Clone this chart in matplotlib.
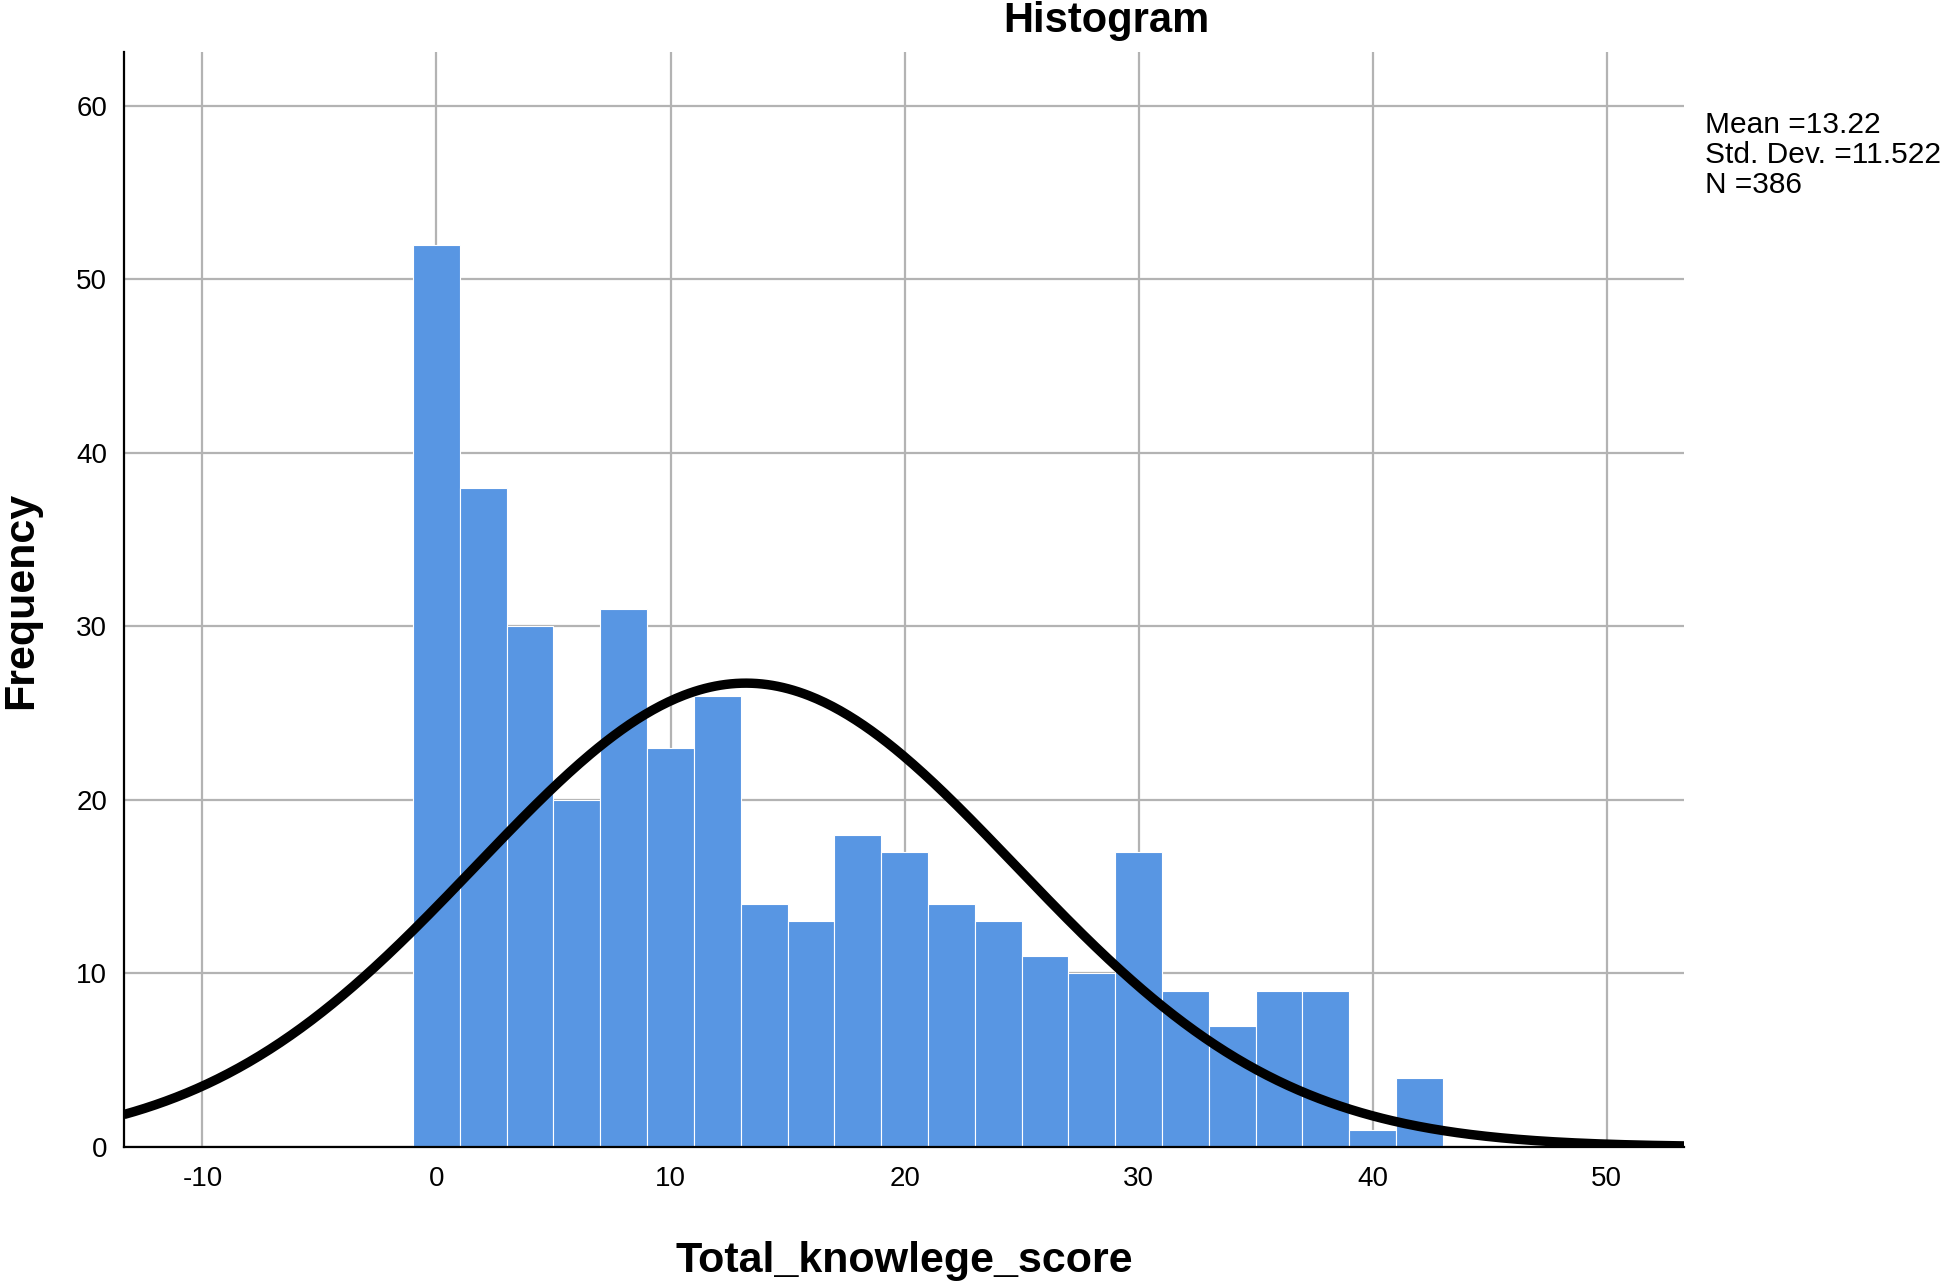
import numpy as np
import matplotlib
matplotlib.use("Agg")
import matplotlib.pyplot as plt

plt.rcParams['font.family'] = ['Liberation Sans', 'DejaVu Sans']
plt.rcParams['axes.unicode_minus'] = False

# ---- data ----
bin_centers = [0, 2, 4, 6, 8, 10, 12, 14, 16, 18, 20, 22, 24, 26, 28, 30, 32, 34, 36, 38, 40, 42]
frequencies = [52, 38, 30, 20, 31, 23, 26, 14, 13, 18, 17, 14, 13, 11, 10, 17, 9, 7, 9, 9, 1, 4]
bin_width = 2
mean_val = 13.22
sd_val = 11.522
n_val = 386
x_ticks = [-10, 0, 10, 20, 30, 40, 50]
y_ticks = [0, 10, 20, 30, 40, 50, 60]
stats_lines = ["Mean =13.22", "Std. Dev. =11.522", "N =386"]

W, H = 1945, 1284
fig = plt.figure(figsize=(W / 100, H / 100), dpi=100)
ax = fig.add_axes([124 / W, 1 - 1147 / H, (1684 - 124) / W, (1147 - 52) / H])

ax.bar(bin_centers, frequencies, width=bin_width, color='#5896E3',
       edgecolor='white', linewidth=0.8, zorder=2)

xs = np.linspace(-13.35, 53.3, 600)
ys = n_val * bin_width / (sd_val * np.sqrt(2 * np.pi)) * np.exp(-0.5 * ((xs - mean_val) / sd_val) ** 2)
ax.plot(xs, ys, color='black', linewidth=6.8, zorder=3, solid_capstyle='butt')

ax.set_xlim(-13.35, 53.3)
ax.set_ylim(0, 63.1)
ax.set_xticks(x_ticks)
ax.set_yticks(y_ticks)
ax.tick_params(axis='both', length=0, labelsize=20)
ax.tick_params(axis='x', pad=14)
ax.tick_params(axis='y', pad=12)
ax.grid(True, color='#b3b3b3', linewidth=1.6, zorder=0)
ax.set_axisbelow(True)
for s in ['top', 'right']:
    ax.spines[s].set_visible(False)
for s in ['left', 'bottom']:
    ax.spines[s].set_linewidth(1.6)
    ax.spines[s].set_color('black')
    ax.spines[s].set_zorder(4)

fig.text(1106 / W, 1 - 21 / H, "Histogram", ha='center', va='center',
         fontsize=30, fontweight='bold')
fig.text(904 / W, 1 - 1261 / H, "Total_knowlege_score", ha='center', va='center',
         fontsize=31, fontweight='bold')
fig.text(21 / W, 1 - 600 / H, "Frequency", ha='center', va='center',
         rotation=90, fontsize=31, fontweight='bold')

for i, line in enumerate(stats_lines):
    fig.text(1705 / W, 1 - (125 + 30 * i) / H, line, ha='left', va='center', fontsize=21.5)

fig.savefig("out.png", dpi=100)
